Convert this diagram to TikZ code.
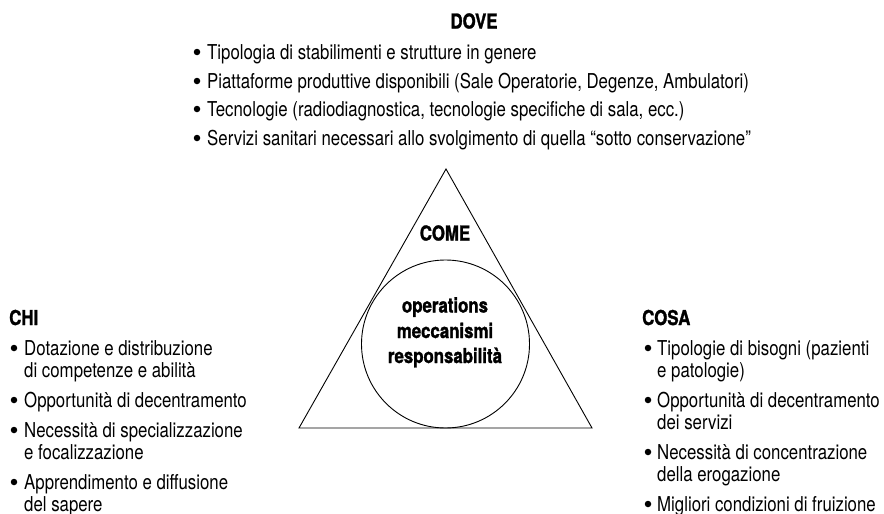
\documentclass[tikz,border=0pt]{standalone}
\usepackage{fontspec}
\setmainfont{TeX Gyre Heros}[FakeStretch=0.82,BoldFeatures={FakeBold=1.4}]
\begin{document}
\begin{tikzpicture}[x=1pt,y=-1pt,
  txt/.style={anchor=base west,inner sep=0pt,font=\fontsize{20.5pt}{22pt}\selectfont},
  hd/.style={inner sep=0pt,font=\fontsize{20.5pt}{22pt}\selectfont\bfseries},
  dot/.style={circle,fill=black,inner sep=0pt,minimum size=6.5pt},
  outl/.style={draw=black,line width=0.9pt}]
\useasboundingbox (0,0) rectangle (884,514);
% triangle and circle
\coordinate (apex) at (446,169);
\coordinate (bl) at (299,428);
\coordinate (br) at (592,428);
\draw[outl,line join=miter] (apex) -- (bl) -- (br) -- cycle;
\node[outl,circle,minimum size=168pt,inner sep=0pt] (core) at (445.5,344) {};
\node[hd,anchor=base] (come) at (445,240.5) {COME};
\node[hd,anchor=base] (op) at (445,312.5) {operations};
\node[hd,anchor=base] (mec) at (445,338) {meccanismi};
\node[hd,anchor=base] (resp) at (445,363) {responsabilità};
% DOVE
\node[hd,anchor=base] (dove) at (474,28.5) {DOVE};
\node[dot] (bd1) at (197,52) {};
\node[txt] (d1) at (207,59.5) {Tipologia di stabilimenti e strutture in genere};
\node[dot] (bd2) at (197,81) {};
\node[txt] (d2) at (207,88.5) {Piattaforme produttive disponibili (Sale Operatorie, Degenze, Ambulatori)};
\node[dot] (bd3) at (197,109) {};
\node[txt] (d3) at (207,116.5) {Tecnologie (radiodiagnostica, tecnologie specifiche di sala, ecc.)};
\node[dot] (bd4) at (197,138) {};
\node[txt] (d4) at (207,145.5) {Servizi sanitari necessari allo svolgimento di quella “sotto conservazione”};
% CHI
\node[hd,anchor=base west] (chi) at (9,325) {CHI};
\node[dot] (bc1) at (14,348) {};
\node[txt] (c1) at (24,355.5) {Dotazione e distribuzione};
\node[txt] (c1b) at (24,377.5) {di competenze e abilità};
\node[dot] (bc2) at (14,400) {};
\node[txt] (c2) at (24,407.5) {Opportunità di decentramento};
\node[dot] (bc3) at (14,430) {};
\node[txt] (c3) at (24,437.5) {Necessità di specializzazione};
\node[txt] (c3b) at (24,459.5) {e focalizzazione};
\node[dot] (bc4) at (14,482) {};
\node[txt] (c4) at (24,489.5) {Apprendimento e diffusione};
\node[txt] (c4b) at (24,511.5) {del sapere};
% COSA
\node[hd,anchor=base west] (cosa) at (642,325) {COSA};
\node[dot] (bs1) at (648,348) {};
\node[txt] (s1) at (657,355.5) {Tipologie di bisogni (pazienti};
\node[txt] (s1b) at (657,377.5) {e patologie)};
\node[dot] (bs2) at (648,400) {};
\node[txt] (s2) at (657,407.5) {Opportunità di decentramento};
\node[txt] (s2b) at (657,429.5) {dei servizi};
\node[dot] (bs3) at (648,452) {};
\node[txt] (s3) at (657,459.5) {Necessità di concentrazione};
\node[txt] (s3b) at (657,481.5) {della erogazione};
\node[dot] (bs4) at (648,504) {};
\node[txt] (s4) at (657,511.5) {Migliori condizioni di fruizione};
\end{tikzpicture}
\end{document}
